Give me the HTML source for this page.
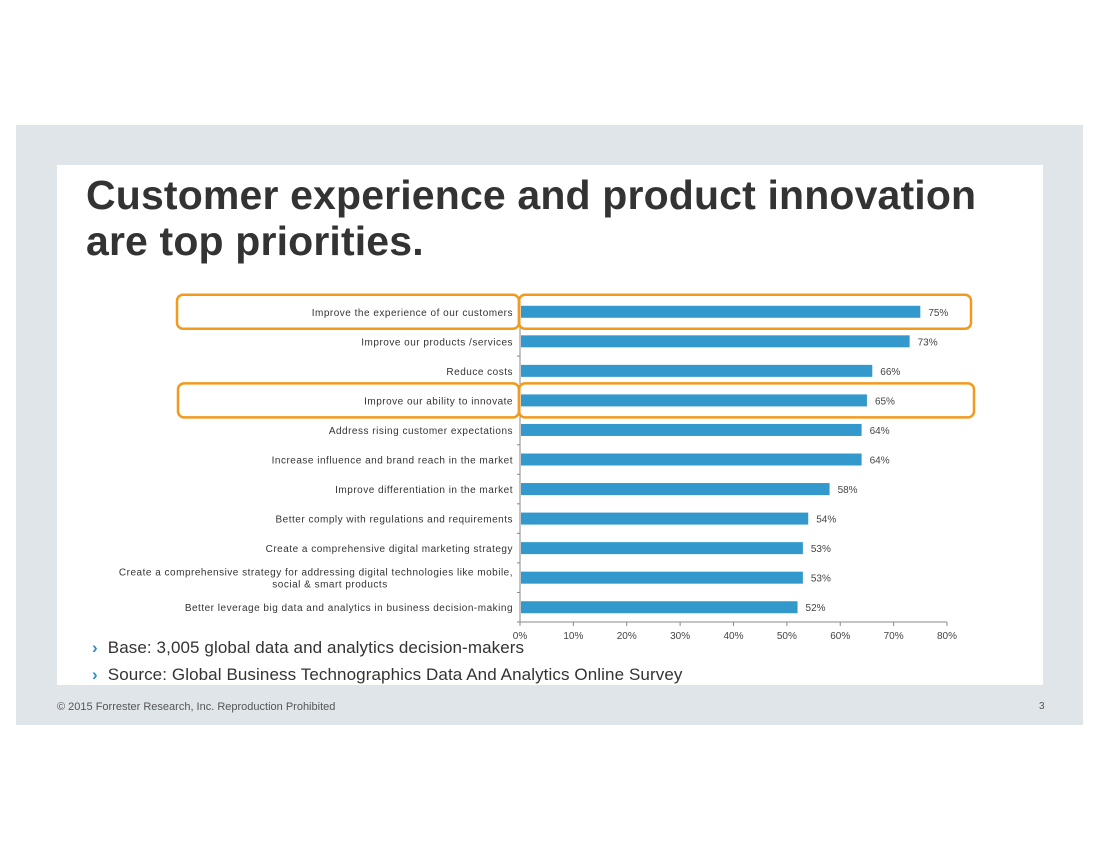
<!DOCTYPE html>
<html><head><meta charset="utf-8"><style>
body{margin:0;width:1100px;height:850px;background:#fff;font-family:"Liberation Sans",sans-serif;overflow:hidden;position:relative}
#bg{position:absolute;left:16px;top:125px;width:1067px;height:600px;background:#e0e5e9}
#panel{position:absolute;left:57px;top:165px;width:986px;height:520px;background:#fff}
#title{position:absolute;left:86px;top:172px;font-size:41px;font-weight:bold;color:#333;line-height:46px;margin:0;letter-spacing:0.15px}
.note{position:absolute;left:92px;font-size:17px;color:#333;letter-spacing:0.1px}
.note b{color:#2e8fc8;margin-right:10px}
#footer{position:absolute;left:57px;top:701px;font-size:11px;color:#555}
#pnum{position:absolute;left:1039px;top:701px;font-size:10px;color:#555}
svg{position:absolute;left:0;top:0}
</style></head><body>
<div id="bg"></div>
<div id="panel"></div>
<h1 id="title">Customer experience and product innovation<br>are top priorities.</h1>
<svg id="chart" width="1100" height="850"></svg>
<div class="note" style="top:638px"><b>›</b>Base: 3,005 global data and analytics decision-makers</div>
<div class="note" style="top:665px"><b>›</b>Source: Global Business Technographics Data And Analytics Online Survey</div>
<div id="footer">© 2015 Forrester Research, Inc. Reproduction Prohibited</div>
<div id="pnum">3</div>
<script>
const categories=["Improve the experience of our customers","Improve our products /services","Reduce costs","Improve our ability to innovate","Address rising customer expectations","Increase influence and brand reach in the market","Improve differentiation in the market","Better comply with regulations and requirements","Create a comprehensive digital marketing strategy","Create a comprehensive strategy for addressing digital technologies like mobile,|social & smart products","Better leverage big data and analytics in business decision-making"];
const values=[75,73,66,65,64,64,58,54,53,53,52];
const ticks=[0,10,20,30,40,50,60,70,80];
const highlighted=[0,3];
const NS="http://www.w3.org/2000/svg";
const svg=document.getElementById('chart');
const x0=520,x1=947,yTop=297,yBot=622,maxV=80;
const xs=v=>x0+(x1-x0)*v/maxV;
const band=(yBot-yTop)/categories.length;
const yc=i=>yTop+band*(i+0.5);
function mk(t,a){const e=document.createElementNS(NS,t);for(const k in a)e.setAttribute(k,a[k]);svg.appendChild(e);return e;}
let ax=mk('line',{x1:x0,y1:yTop,x2:x0,y2:yBot,stroke:'#888','stroke-width':1});


let bx=mk('line',{x1:x0,y1:yBot,x2:x1,y2:yBot,stroke:'#888','stroke-width':1});


ticks.forEach(t=>{
 const tk=mk('line',{x1:xs(t),y1:yBot,x2:xs(t),y2:yBot+4,stroke:'#888'});
 
 
 const tl=mk('text',{x:xs(t),y:yBot+17,'text-anchor':'middle','font-size':10,fill:'#444'});
 tl.textContent=t+'%';
 
 
});
for(let i=0;i<=categories.length;i++){
 const tk=mk('line',{x1:x0-3,y1:yTop+band*i,x2:x0,y2:yTop+band*i,stroke:'#888'});
 
 
}
categories.forEach((c,i)=>{
 const b=mk('rect',{x:x0+1,y:yc(i)-6,width:xs(values[i])-x0-1,height:12,fill:'#3399cc'});
 
 
 const v=mk('text',{x:xs(values[i])+8,y:yc(i)+4,'font-size':10,fill:'#444'});
 v.textContent=values[i]+'%';
 
 
 const lines=c.split('|');
 lines.forEach((ln,j)=>{
  const multi=lines.length>1&&j>0;
  const l=mk('text',{x:multi?330:x0-7,y:yc(i)+4+(j-(lines.length-1)/2)*12,'text-anchor':multi?'middle':'end','font-size':10,fill:'#333','letter-spacing':'0.5'});
  l.textContent=ln;
  
  
 });
});
highlighted.forEach(i=>{
 const h=34;
 const r1=mk('rect',{x:177+(i?1:0),y:yc(i)-h/2,width:342-(i?1:0),height:h,rx:6,fill:'none',stroke:'#f29a1e','stroke-width':2.5});
 
 
 const r2=mk('rect',{x:519,y:yc(i)-h/2,width:452+(i?3:0),height:h,rx:6,fill:'none',stroke:'#f29a1e','stroke-width':2.5});
 
 
});
</script>
</body></html>
